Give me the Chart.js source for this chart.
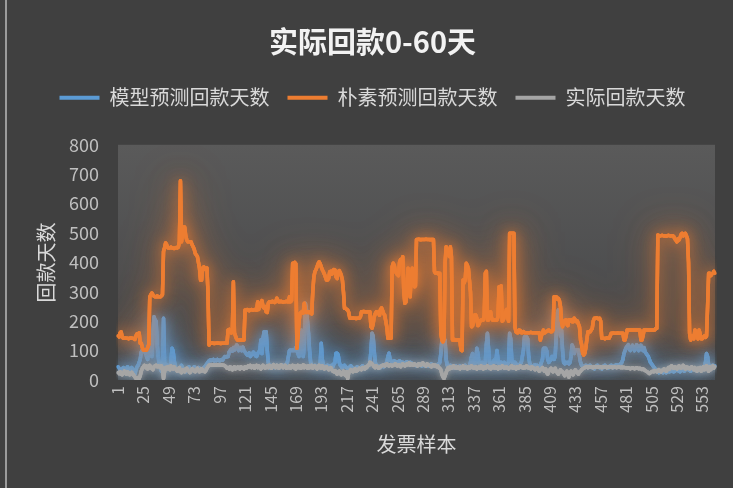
<!DOCTYPE html>
<html>
<head>
<meta charset="utf-8">
<script src="https://cdn.jsdelivr.net/npm/chart.js@4.4.0/dist/chart.umd.min.js"></script>
<style>
  html, body { margin: 0; padding: 0; background: #404040; }
  #wrap { position: relative; width: 733px; height: 488px; overflow: hidden; background: #404040; }
  #edge { position: absolute; left: 5px; top: 0; width: 2px; height: 488px; background: #9b9b9b; }
  #c { position: absolute; left: 0; top: 0; }
</style>
</head>
<body>
<div id="wrap">
  <div id="edge"></div>
  <canvas id="c" width="733" height="488"></canvas>
</div>
<script>
// Invoice samples 1..565
const sampleCount = 565;
const categories = Array.from({ length: sampleCount }, (_, i) => i + 1);

// Tick labels shown along the sample axis
const xTickLabels = [1, 25, 49, 73, 97, 121, 145, 169, 193, 217, 241, 265, 289, 313, 337, 361, 385, 409, 433, 457, 481, 505, 529, 553];
const yTickValues = [0, 100, 200, 300, 400, 500, 600, 700, 800];

const seriesNames = ['模型预测回款天数', '朴素预测回款天数', '实际回款天数'];

// 模型预测回款天数
const modelDays = [
  45,40,35,30,38,42,35,28,40,45,38,30,35,42,38,25,20,35,45,50,
  60,70,95,102,100,98,90,80,70,100,120,90,80,150,215,205,200,120,80,50,
  40,30,40,210,60,40,45,50,40,45,60,108,100,70,45,40,35,30,40,45,
  50,40,35,30,28,35,40,45,38,30,35,40,45,40,35,38,42,40,35,30,
  38,42,45,50,55,60,65,68,66,68,70,65,68,66,70,68,65,68,70,68,
  75,80,78,79,80,95,100,105,98,110,102,108,119,115,100,105,110,100,112,100,
  95,90,85,88,92,80,85,90,95,88,82,80,90,95,100,136,90,140,164,120,
  164,100,60,45,40,48,50,45,42,48,50,45,40,48,50,52,45,48,50,55,
  60,80,100,102,100,102,100,102,110,100,90,80,100,170,110,80,120,261,240,200,
  159,100,60,50,45,48,50,45,42,48,50,55,125,70,50,45,40,48,50,45,
  42,48,50,45,55,60,91,91,85,60,50,45,40,48,50,45,42,40,38,45,
  48,42,40,38,35,42,45,40,38,42,45,48,40,38,42,45,48,50,60,100,
  159,150,100,60,50,45,48,45,42,48,50,45,48,55,60,80,91,70,65,60,
  62,65,60,58,62,60,65,62,58,60,55,58,60,62,58,55,60,58,55,52,
  50,52,48,50,52,55,50,48,52,50,48,50,52,48,50,52,55,50,48,50,
  52,50,48,55,60,90,136,136,136,136,70,50,45,48,50,45,42,40,45,48,
  42,40,45,48,42,40,45,48,50,45,42,40,48,60,80,90,60,55,60,108,
  90,60,50,55,60,55,50,60,120,159,110,60,55,50,60,65,70,60,100,70,
  55,50,60,50,55,60,55,50,55,60,159,140,70,55,60,60,55,50,48,50,
  55,60,80,100,147,147,147,140,80,55,50,48,45,50,52,48,50,45,48,50,
  60,70,108,108,108,100,70,60,65,70,80,75,70,80,150,227,238,200,150,170,
  100,60,55,60,58,60,55,60,80,119,110,90,100,102,102,102,80,60,50,45,
  45,48,50,45,42,48,50,45,42,40,38,45,48,50,45,42,40,38,45,48,
  50,45,42,40,45,48,50,45,42,48,50,52,48,50,52,55,60,70,90,100,
  110,115,120,105,100,112,118,110,100,108,120,115,100,110,118,105,100,110,95,90,
  85,80,70,60,55,50,45,40,35,30,28,25,30,32,28,25,30,28,25,30,
  32,28,30,35,32,28,30,35,38,32,30,28,35,38,32,30,35,38,40,35,
  32,30,35,38,40,35,32,30,35,38,40,42,38,35,40,60,90,80,50,40,
  45,48,50,45,48
];

// 朴素预测回款天数
const naiveDays = [
  150,147,160,164,145,142,142,143,142,142,140,142,143,142,142,140,138,150,157,157,
  160,125,125,110,102,102,102,102,110,120,283,290,296,290,285,283,283,286,283,283,
  283,286,290,437,450,466,460,450,449,449,452,449,449,447,449,451,449,452,470,678,
  470,500,520,520,490,476,470,470,470,470,460,453,445,430,425,420,400,380,340,340,
  381,385,380,375,381,300,119,125,125,126,125,124,125,125,126,125,125,124,125,125,
  125,126,125,125,170,172,165,160,165,334,160,150,140,136,136,136,137,136,136,136,
  238,238,240,238,236,238,240,238,238,240,238,238,266,240,255,260,270,249,245,250,
  232,230,261,266,266,265,268,266,264,266,278,272,266,266,268,266,265,266,266,268,
  266,266,283,266,270,397,397,400,395,108,150,200,227,230,232,228,261,232,230,232,
  230,232,228,225,300,350,368,375,385,395,402,395,385,375,368,360,350,340,340,345,
  368,370,360,372,376,374,350,345,368,372,365,355,340,300,244,244,240,238,230,210,
  210,210,211,210,210,209,210,210,210,215,232,232,233,232,232,231,232,232,232,181,
  176,190,215,225,232,228,232,220,240,245,236,225,220,200,180,142,142,142,142,385,
  397,390,370,363,358,355,400,410,405,419,300,261,265,320,380,350,283,363,380,340,
  317,320,478,478,479,478,477,478,478,478,478,479,478,478,478,477,478,478,478,368,
  363,363,365,360,363,159,136,130,140,397,453,440,430,420,453,420,136,136,138,135,
  136,137,136,136,102,100,340,330,340,397,390,380,340,300,181,185,200,221,221,210,
  185,190,200,204,204,204,220,363,370,204,204,215,232,210,204,204,204,204,204,215,
  317,317,320,200,204,215,225,240,215,200,499,499,499,499,499,181,164,161,161,170,
  168,161,161,165,161,161,161,161,161,161,162,161,161,161,161,161,161,161,161,136,
  150,161,170,160,164,165,168,170,166,164,165,170,283,283,283,275,278,270,250,200,
  181,200,198,205,190,185,205,200,205,198,198,210,205,198,200,190,180,136,120,91,
  85,91,110,140,164,164,164,170,175,200,210,210,212,210,208,210,200,142,142,142,
  140,142,144,142,142,150,159,159,160,159,159,159,160,159,159,159,159,159,136,136,
  150,170,170,170,170,170,170,170,170,170,170,170,170,170,136,136,150,170,170,170,
  170,170,170,170,170,170,170,170,175,175,493,491,490,491,492,491,490,491,489,491,
  492,491,490,491,491,488,480,476,470,480,476,485,495,499,490,495,499,490,480,400,
  159,136,150,145,140,170,164,150,140,170,155,140,140,145,150,145,150,250,363,363,
  355,360,363,370,363
];

// 实际回款天数
const actualDays = [
  25,22,28,20,18,25,30,22,20,28,25,18,22,26,20,15,10,5,8,3,
  5,15,30,40,45,50,42,48,38,45,50,40,42,35,45,48,50,45,48,46,
  42,48,40,5,30,42,38,45,40,35,48,42,38,45,40,35,30,38,42,28,
  25,35,30,28,38,40,35,30,25,32,38,35,30,28,35,40,32,28,30,38,
  35,30,28,32,40,45,50,52,50,51,52,50,51,50,52,51,50,52,51,50,
  50,48,45,40,42,38,45,40,35,42,45,38,40,44,42,38,45,40,42,38,
  45,40,42,48,45,50,42,45,48,40,45,50,42,48,45,38,42,50,45,40,
  45,48,42,50,45,40,48,52,45,42,50,48,40,45,52,48,42,45,50,40,
  45,42,48,40,45,50,42,48,38,45,50,42,48,40,45,52,42,48,45,40,
  48,42,45,50,40,45,48,42,38,45,50,42,40,48,45,38,42,45,40,35,
  38,42,35,30,28,32,25,20,28,30,22,18,25,30,20,15,28,5,25,30,
  35,30,28,35,38,30,32,35,40,38,35,42,40,38,45,42,48,50,60,58,
  55,50,45,42,48,45,40,42,45,48,50,52,48,50,55,50,48,52,50,48,
  50,52,55,50,48,52,50,45,50,55,52,48,50,55,52,58,50,55,52,50,
  55,52,50,48,55,52,50,55,58,52,50,48,55,52,50,48,45,50,52,48,
  50,45,48,42,40,35,20,10,5,15,25,35,42,38,45,40,42,48,45,40,
  42,45,40,38,45,42,48,40,45,42,38,45,40,42,48,45,40,42,45,38,
  42,45,40,48,42,38,45,40,42,48,45,40,38,45,42,48,40,45,42,38,
  45,40,42,48,45,40,42,45,40,38,42,45,48,40,45,42,38,45,40,42,
  48,45,42,40,45,42,48,45,40,42,38,45,42,40,35,38,42,35,30,35,
  38,42,35,30,38,25,20,30,35,40,32,28,35,40,30,25,20,28,35,30,
  28,22,15,25,30,20,10,25,30,22,18,28,35,30,25,20,28,30,35,38,
  40,42,45,44,42,45,43,45,44,42,45,43,44,45,43,44,45,42,44,43,
  45,44,42,45,43,44,45,42,44,45,43,42,44,45,43,42,44,42,43,42,
  42,40,42,40,38,40,42,40,38,40,42,40,38,40,38,36,38,35,32,30,
  28,25,22,25,28,30,28,32,30,28,32,35,30,28,32,35,38,32,30,35,
  42,38,45,48,42,40,45,42,38,45,48,42,40,45,50,42,38,45,40,42,
  38,42,45,40,35,42,38,30,40,35,42,30,38,45,35,40,48,38,30,45,
  35,42,48,40,45
];

const FONT = '"Noto Sans CJK SC", "Noto Sans", sans-serif';

// Soft grey gradient behind the plot
const plotBackground = {
  id: 'plotBackground',
  beforeDatasetsDraw(chart) {
    const { ctx, chartArea: a } = chart;
    const g = ctx.createLinearGradient(0, a.top, 0, a.bottom);
    g.addColorStop(0, '#5a5a5a');
    g.addColorStop(1, '#444547');
    ctx.save();
    ctx.fillStyle = g;
    ctx.fillRect(a.left, a.top, a.right - a.left, a.bottom - a.top);
    ctx.restore();
  }
};

// Glow around each line: a wide soft halo pass, then the normal stroke
const lineGlow = {
  id: 'lineGlow',
  beforeDatasetDraw(chart, args) {
    const ds = chart.data.datasets[args.index];
    const meta = chart.getDatasetMeta(args.index);
    const ctx = chart.ctx;
    const a = chart.chartArea;
    if (meta.dataset && ds.glowColor) {
      ctx.save();
      ctx.beginPath();
      ctx.rect(a.left, a.top, a.right - a.left, a.bottom - a.top);
      ctx.clip();
      ctx.shadowColor = ds.glowColor;
      ctx.shadowBlur = ds.glowBlur;
      meta.dataset.draw(ctx, a);
      ctx.shadowBlur = Math.round(ds.glowBlur * 1.6);
      meta.dataset.draw(ctx, a);
      ctx.restore();
    }
    ctx.save();
    ctx.shadowColor = ds.glowColor;
    ctx.shadowBlur = Math.round(ds.glowBlur / 2);
  },
  afterDatasetDraw(chart) {
    chart.ctx.restore();
  }
};

// Extra space between legend and plot
const legendGap = {
  id: 'legendGap',
  beforeLayout(chart) {
    const lg = chart.legend;
    if (lg && !lg._gapPatched) {
      const fit = lg.fit.bind(lg);
      lg.fit = function () { fit(); this.height += 27; };
      lg._gapPatched = true;
    }
  }
};

new Chart(document.getElementById('c'), {
  type: 'line',
  data: {
    labels: categories,
    datasets: [
      {
        label: seriesNames[0], data: modelDays,
        borderColor: '#5b9bd5', backgroundColor: '#5b9bd5',
        glowColor: 'rgba(91,155,213,0.85)', glowBlur: 22, order: 3
      },
      {
        label: seriesNames[1], data: naiveDays,
        borderColor: '#ed7d31', backgroundColor: '#ed7d31',
        glowColor: 'rgba(237,125,49,0.85)', glowBlur: 26, order: 2
      },
      {
        label: seriesNames[2], data: actualDays,
        borderColor: '#a5a5a5', backgroundColor: '#a5a5a5',
        glowColor: 'rgba(165,165,165,0.5)', glowBlur: 10, order: 1
      }
    ]
  },
  options: {
    responsive: false,
    animation: false,
    devicePixelRatio: 1,
    layout: { padding: { left: 30, right: 18, top: 0, bottom: 0 } },
    elements: {
      line: { borderWidth: 3.5, tension: 0, borderJoinStyle: 'round', borderCapStyle: 'round' },
      point: { radius: 0, hoverRadius: 0 }
    },
    plugins: {
      title: {
        display: true,
        text: '实际回款0-60天',
        color: '#f2f2f2',
        font: { family: FONT, size: 29, weight: 'bold' },
        padding: { top: 25, bottom: 10 }
      },
      legend: {
        display: true,
        position: 'top',
        labels: {
          color: '#d9d9d9',
          font: { family: FONT, size: 20 },
          boxWidth: 40,
          boxHeight: 4,
          padding: 18,
          sort: (a, b) => a.datasetIndex - b.datasetIndex,
          generateLabels(chart) {
            const items = Chart.defaults.plugins.legend.labels.generateLabels(chart);
            items.forEach(it => { it.lineWidth = 0; });
            return items;
          }
        }
      },
      tooltip: { enabled: false }
    },
    scales: {
      x: {
        type: 'category',
        grid: { display: false, drawTicks: false },
        border: { display: false },
        ticks: {
          autoSkip: false,
          minRotation: 90,
          maxRotation: 90,
          padding: 6,
          color: '#bfbfbf',
          font: { family: FONT, size: 16 },
          callback(value, index) {
            const lab = categories[index];
            return xTickLabels.includes(lab) ? String(lab) : '';
          }
        },
        title: {
          display: true,
          text: '发票样本',
          color: '#d9d9d9',
          font: { family: FONT, size: 20 },
          padding: { top: 0, bottom: 32 }
        },
        afterFit(scale) {
          scale.height = 108;
          scale.paddingLeft = 0;
          scale.paddingRight = 0;
        }
      },
      y: {
        min: 0,
        max: 800,
        grid: { display: false, drawTicks: false },
        border: { display: false },
        afterBuildTicks(scale) { scale.ticks = yTickValues.map(v => ({ value: v })); },
        ticks: {
          padding: 19,
          color: '#bfbfbf',
          font: { family: FONT, size: 18 }
        },
        title: {
          display: true,
          text: '回款天数',
          color: '#d9d9d9',
          font: { family: FONT, size: 20 },
          padding: { top: 4, bottom: 0 }
        },
        afterFit(scale) { scale.width = 88; }
      }
    }
  },
  plugins: [plotBackground, lineGlow, legendGap]
});
</script>
</body>
</html>
